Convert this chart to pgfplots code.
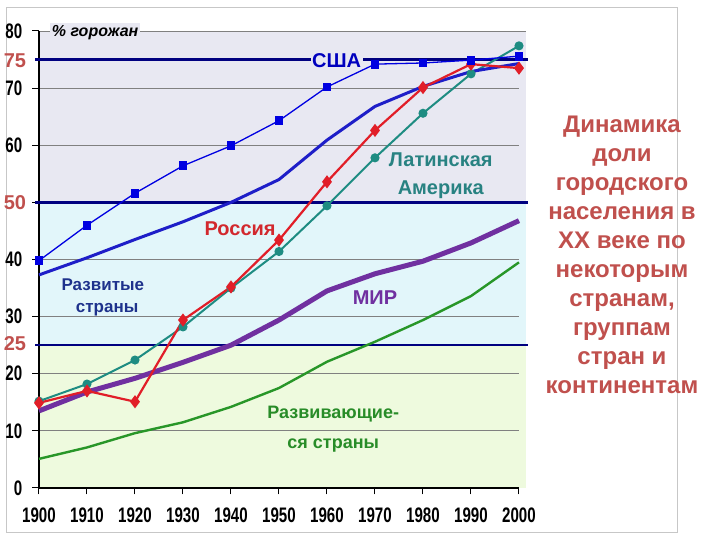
\documentclass[border=0pt]{standalone}
\usepackage{pgfplots}
\pgfplotsset{compat=1.18}
\usepackage{fontspec}
\setmainfont{Liberation Sans}
\newfontfamily\tickfont[FakeStretch=0.72]{Liberation Sans}
\definecolor{bgL}{RGB}{232,232,242}
\definecolor{bgC}{RGB}{226,246,250}
\definecolor{bgG}{RGB}{238,250,222}
\definecolor{gridgray}{RGB}{128,128,128}
\definecolor{navyl}{RGB}{0,0,128}
\definecolor{lblred}{RGB}{192,80,77}
\definecolor{usac}{RGB}{0,0,225}
\definecolor{usalbl}{RGB}{0,0,190}
\definecolor{devc}{RGB}{30,30,200}
\definecolor{devlbl}{RGB}{30,50,140}
\definecolor{rusc}{RGB}{225,30,40}
\definecolor{ruslbl}{RGB}{210,40,45}
\definecolor{latc}{RGB}{30,140,130}
\definecolor{latlbl}{RGB}{40,130,130}
\definecolor{worldc}{RGB}{112,48,160}
\definecolor{dvgc}{RGB}{40,150,40}
\definecolor{dvglbl}{RGB}{40,140,40}
\begin{document}
\begin{tikzpicture}[x=1pt,y=1pt]
\path[use as bounding box] (0,0) rectangle (720,540);
\draw[black!22, line width=1pt] (6,7) rectangle (677,532);
\begin{axis}[
  at={(39pt,52pt)}, anchor=south west, scale only axis,
  width=487pt, height=457pt,
  xmin=1900, xmax=2001.46, ymin=0, ymax=80,
  axis x line*=bottom, axis y line*=left,
  axis line style={draw=none},
  clip=false,
  xtick={1900,1910,1920,1930,1940,1950,1960,1970,1980,1990,2000},
  xticklabels={1900,1910,1920,1930,1940,1950,1960,1970,1980,1990,2000},
  ytick={0,10,20,30,40,50,60,70,80},
  yticklabels={0,10,20,30,40,{},60,70,80},
  tick align=outside,
  major tick length=6.5pt,
  tick style={black, line width=1pt},
  xticklabel style={font=\tickfont\bfseries\fontsize{21}{21}\selectfont, inner sep=0pt, yshift=-13pt},
  yticklabel style={font=\tickfont\bfseries\fontsize{21}{21}\selectfont, inner sep=0pt, xshift=-10pt},
]
\fill[bgG] (axis cs:1900,0) rectangle (axis cs:2001.46,25);
\fill[bgC] (axis cs:1900,25) rectangle (axis cs:2001.46,50);
\fill[bgL] (axis cs:1900,50) rectangle (axis cs:2001.46,80);
\pgfplotsinvokeforeach{10,20,30,40,50,60,70}{\draw[gridgray, line width=0.9pt] (axis cs:1900,#1) -- (axis cs:2000,#1);}
\draw[gridgray, line width=0.9pt] (axis cs:1900,80) -- (axis cs:2001.46,80);
\draw[black, line width=1.3pt] (axis cs:1900,0) -- (axis cs:1900,80);
\draw[black, line width=1.3pt] (axis cs:1900,0) -- (axis cs:2000,0);
\draw[navyl, line width=2.3pt] (axis cs:1899.2,75) -- (axis cs:2001.9,75);
\draw[navyl, line width=2.3pt] (axis cs:1899.2,50) -- (axis cs:2001.9,50);
\draw[navyl, line width=2.3pt] (axis cs:1899.2,25) -- (axis cs:2001.9,25);
\node[text=lblred, font=\bfseries\fontsize{20}{20}\selectfont] at (axis cs:1895,74.8) {75};
\node[text=lblred, font=\bfseries\fontsize{20}{20}\selectfont] at (axis cs:1895,50) {50};
\node[text=lblred, font=\bfseries\fontsize{20}{20}\selectfont] at (axis cs:1895,25.2) {25};
\node[fill=bgL, inner sep=1.5pt, text=usalbl, font=\bfseries\fontsize{20}{20}\selectfont] at (axis cs:1962,74.9) {США};
\node[fill=bgL, inner sep=1.5pt, text=black, font=\bfseries\itshape\fontsize{16}{16}\selectfont] at (axis cs:1911.7,79.8) {\% горожан};
\addplot[dvgc, line width=2.4pt] coordinates {(1900,5.1)(1910,7.1)(1920,9.6)(1930,11.5)(1940,14.2)(1950,17.5)(1960,22.1)(1970,25.6)(1980,29.4)(1990,33.6)(2000,39.5)};
\addplot[worldc, line width=5pt] coordinates {(1900,13.5)(1910,16.8)(1920,19.2)(1930,22.0)(1940,25.0)(1950,29.4)(1960,34.5)(1970,37.5)(1980,39.7)(1990,42.9)(2000,46.8)};
\addplot[latc, line width=2pt, mark=*, mark size=3.5pt] coordinates {(1900,15.2)(1910,18.2)(1920,22.4)(1930,28.2)(1940,35.0)(1950,41.4)(1960,49.4)(1970,57.8)(1980,65.6)(1990,72.5)(2000,77.4)};
\addplot[devc, line width=3pt] coordinates {(1900,37.3)(1910,40.3)(1920,43.5)(1930,46.6)(1940,50.0)(1950,54.0)(1960,60.9)(1970,66.8)(1980,70.3)(1990,72.9)(2000,74.3)};
\addplot[rusc, line width=2.2pt, mark=diamond*, mark size=4.8pt] coordinates {(1900,14.9)(1910,17.0)(1920,15.1)(1930,29.4)(1940,35.2)(1950,43.4)(1960,53.6)(1970,62.6)(1980,70.1)(1990,74.2)(2000,73.5)};
\addplot[usac, line width=1.3pt, mark=square*, mark size=3.8pt] coordinates {(1900,39.8)(1910,46.0)(1920,51.6)(1930,56.4)(1940,59.9)(1950,64.3)(1960,70.2)(1970,74.2)(1980,74.4)(1990,74.9)(2000,75.6)};
\node[text=latlbl, font=\bfseries\fontsize{20}{20}\selectfont] at (axis cs:1983.7,57.4) {Латинская};
\node[text=latlbl, font=\bfseries\fontsize{20}{20}\selectfont] at (axis cs:1983.7,52.2) {Америка};
\node[text=ruslbl, font=\bfseries\fontsize{20}{20}\selectfont] at (axis cs:1941.9,45.4) {Россия};
\node[text=devlbl, font=\bfseries\fontsize{17}{17}\selectfont] at (axis cs:1913.3,35.6) {Развитые};
\node[text=devlbl, font=\bfseries\fontsize{17}{17}\selectfont] at (axis cs:1914.2,31.3) {страны};
\node[text=worldc, font=\bfseries\fontsize{20}{20}\selectfont] at (axis cs:1970,33.3) {МИР};
\node[text=dvglbl, font=\bfseries\fontsize{18}{18}\selectfont] at (axis cs:1961.3,13.0) {Развивающие-};
\node[text=dvglbl, font=\bfseries\fontsize{18}{18}\selectfont] at (axis cs:1961.3,7.5) {ся страны};
\end{axis}
\node[align=center, text=lblred, font=\bfseries\fontsize{24}{29}\selectfont] at (622,285) {Динамика\\доли\\городского\\населения в\\XX веке по\\некоторым\\странам,\\группам\\стран и\\континентам};
\end{tikzpicture}
\end{document}
